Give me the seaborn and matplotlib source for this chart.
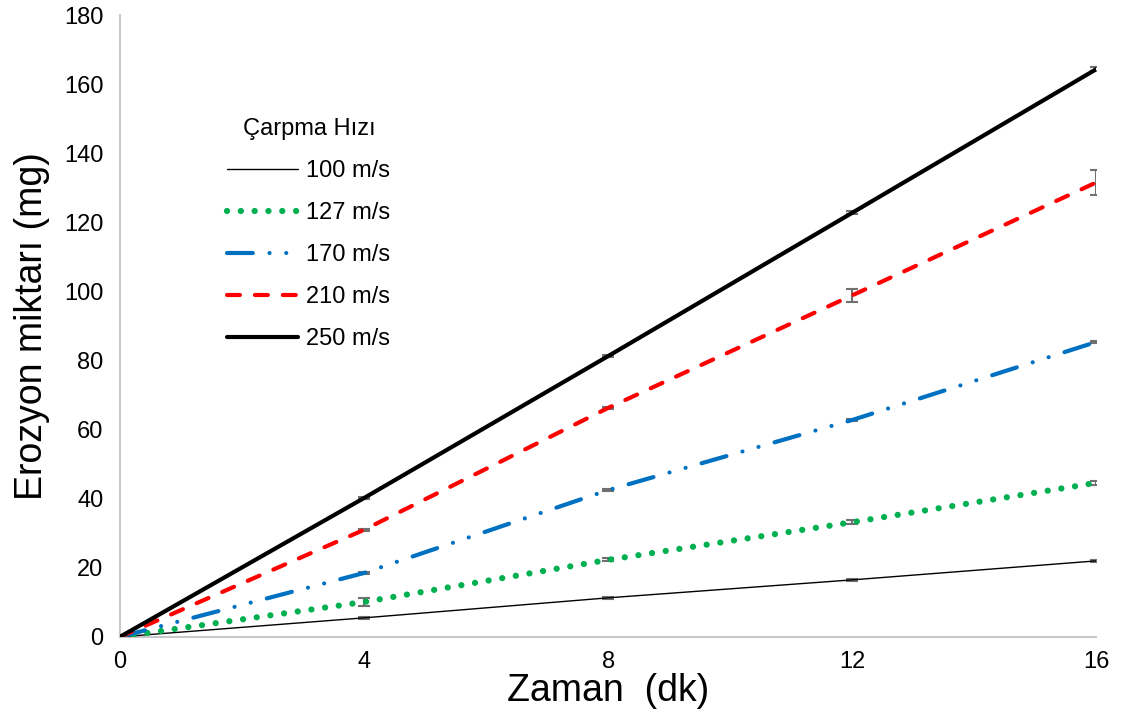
import matplotlib
matplotlib.use("Agg")
import matplotlib.pyplot as plt
import seaborn as sns
import pandas as pd

time = [0, 4, 8, 12, 16]
labels = ["100 m/s", "127 m/s", "170 m/s", "210 m/s", "250 m/s"]
v100 = [0, 5.5, 11.3, 16.5, 22.0]
v127 = [0, 10.1, 22.3, 33.2, 44.6]
v170 = [0, 18.5, 42.5, 62.8, 85.4]
v210 = [0, 31.0, 66.3, 98.9, 131.6]
v250 = [0, 40.2, 81.3, 122.8, 164.4]
e100 = [0, 0.2, 0.2, 0.2, 0.2]
e127 = [0, 1.2, 0.4, 0.5, 0.5]
e170 = [0, 0.3, 0.3, 0.4, 0.4]
e210 = [0, 0.3, 0.3, 1.8, 3.7]
e250 = [0, 0.4, 0.3, 0.4, 0.5]

values = [v100, v127, v170, v210, v250]
errors = [e100, e127, e170, e210, e250]
colors = ["black", "#00B050", "#0070C0", "#FF0000", "black"]
widths = [1.0, 4.5, 3.0, 3.0, 3.0]
dashes = [None, (0.01, 2.2), (6.2, 4, 0.01, 4, 0.01, 4), (3.1, 3.6), None]

sns.set_style("white")
plt.rcParams["font.family"] = ["Liberation Sans", "DejaVu Sans"]
plt.rcParams["text.color"] = "black"
plt.rcParams["axes.labelcolor"] = "black"
plt.rcParams["xtick.color"] = "black"
plt.rcParams["ytick.color"] = "black"

fig = plt.figure(figsize=(11.21, 7.27), dpi=100)
ax = fig.add_axes([0.107, 0.124, 0.871, 0.855])

for lab, v, e, c, w, d in zip(labels, values, errors, colors, widths, dashes):
    df = pd.DataFrame({"t": time, "y": v})
    ax.errorbar(time, v, yerr=e, fmt="none", ecolor="#707070", elinewidth=1.5,
                capsize=4, capthick=1.5, zorder=1)
    line = sns.lineplot(data=df, x="t", y="y", ax=ax, color=c, linewidth=w,
                        label=lab, zorder=3).lines[-1]
    if d is not None:
        line.set_dashes(d)
        line.set_dash_capstyle("round")

ax.set_xlim(0, 16)
ax.set_ylim(0, 180)
ax.set_xticks([0, 4, 8, 12, 16])
ax.set_yticks(range(0, 181, 20))
ax.tick_params(labelsize=17, length=0)
ax.tick_params(axis="x", pad=10)
ax.tick_params(axis="y", pad=12)
for s in ["top", "right"]:
    ax.spines[s].set_visible(False)
for s in ["left", "bottom"]:
    ax.spines[s].set_color("#C8C8C8")
    ax.spines[s].set_linewidth(1.5)
ax.set_xlabel("Zaman  (dk)", fontsize=27, labelpad=0)
ax.set_ylabel("Erozyon miktarı (mg)", fontsize=27, labelpad=10)

leg = ax.legend(title="Çarpma Hızı", loc="upper left", bbox_to_anchor=(0.11, 0.835),
                frameon=False, fontsize=17, title_fontsize=17, handlelength=3,
                labelspacing=0.85, handletextpad=0.35, borderaxespad=0, borderpad=0)

fig.savefig("out.png", dpi=100)
